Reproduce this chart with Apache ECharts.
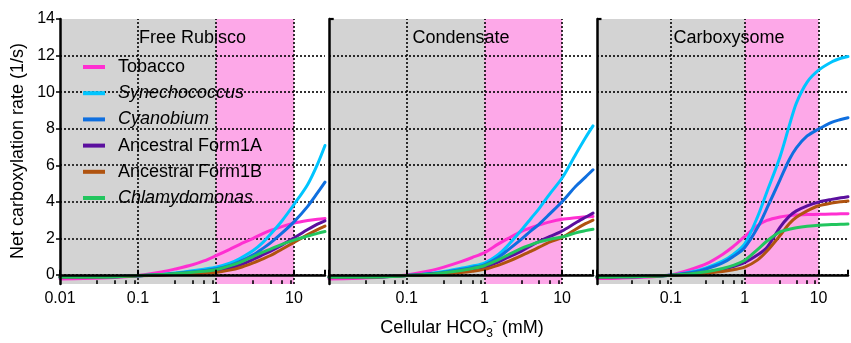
<!DOCTYPE html>
<html><head><meta charset="utf-8">
<script src="https://cdn.jsdelivr.net/npm/echarts@6/dist/echarts.min.js"></script>
<style>html,body{margin:0;padding:0;background:#fff}#c{width:851px;height:343px}</style>
</head><body><div id="c"></div>
<script>
// ---- data ----
const xValues = [0.01, 0.02, 0.05, 0.1, 0.2, 0.3, 0.5, 0.7, 1, 1.5, 2, 3, 4, 5, 7, 10, 15, 20, 25];
const seriesNames = ['Tobacco', 'Synechococcus', 'Cyanobium', 'Ancestral Form1A', 'Ancestral Form1B', 'Chlamydomonas'];
const italicNames = ['Synechococcus', 'Cyanobium', 'Chlamydomonas'];
const panelTitles = ['Free Rubisco', 'Condensate', 'Carboxysome'];
const yTickValues = [0, 2, 4, 6, 8, 10, 12];
const xGridValues = [0.1, 1, 10];
const minorTickValues = [0.03, 0.05, 0.07, 0.09, 0.3, 0.5, 0.7, 0.9, 3, 5, 7, 9];

// Free Rubisco
const freeTobacco = [-0.22, -0.2, -0.14, -0.03, 0.16, 0.32, 0.55, 0.76, 1.05, 1.4, 1.66, 2.0, 2.26, 2.43, 2.64, 2.83, 2.97, 3.04, 3.08];
const freeSyn     = [-0.13, -0.13, -0.11, -0.06, 0.02, 0.1, 0.22, 0.31, 0.42, 0.64, 0.88, 1.33, 1.78, 2.22, 2.95, 3.85, 4.95, 6.05, 7.08];
const freeCyano   = [-0.12, -0.12, -0.1, -0.05, 0.02, 0.08, 0.17, 0.24, 0.33, 0.52, 0.72, 1.1, 1.45, 1.75, 2.28, 2.9, 3.75, 4.48, 5.07];
const freeF1A     = [-0.12, -0.12, -0.1, -0.05, 0.0, 0.04, 0.1, 0.15, 0.21, 0.37, 0.53, 0.85, 1.1, 1.3, 1.63, 2.02, 2.48, 2.78, 2.96];
const freeF1B     = [-0.12, -0.12, -0.1, -0.05, -0.01, 0.02, 0.06, 0.09, 0.13, 0.26, 0.39, 0.66, 0.88, 1.06, 1.4, 1.78, 2.2, 2.48, 2.67];
const freeChlamy  = [-0.12, -0.12, -0.1, -0.04, 0.02, 0.07, 0.14, 0.2, 0.28, 0.49, 0.67, 1.0, 1.24, 1.41, 1.67, 1.9, 2.12, 2.27, 2.37];

// Condensate
const condTobacco = [-0.22, -0.2, -0.12, 0.0, 0.22, 0.42, 0.72, 0.95, 1.22, 1.68, 1.98, 2.38, 2.58, 2.72, 2.9, 3.04, 3.13, 3.18, 3.2];
const condSyn     = [-0.13, -0.13, -0.1, -0.04, 0.08, 0.18, 0.36, 0.48, 0.64, 1.1, 1.6, 2.45, 3.1, 3.6, 4.45, 5.3, 6.6, 7.5, 8.15];
const condCyano   = [-0.12, -0.12, -0.1, -0.04, 0.06, 0.15, 0.3, 0.41, 0.55, 0.95, 1.35, 1.95, 2.42, 2.75, 3.35, 4.0, 4.85, 5.35, 5.75];
const condF1A     = [-0.12, -0.12, -0.1, -0.04, 0.03, 0.09, 0.2, 0.3, 0.42, 0.7, 0.95, 1.3, 1.6, 1.82, 2.1, 2.4, 2.85, 3.15, 3.38];
const condF1B     = [-0.12, -0.12, -0.1, -0.04, 0.01, 0.05, 0.13, 0.2, 0.3, 0.52, 0.72, 1.05, 1.3, 1.5, 1.8, 2.05, 2.5, 2.8, 3.0];
const condChlamy  = [-0.12, -0.12, -0.1, -0.04, 0.04, 0.11, 0.24, 0.35, 0.5, 0.82, 1.08, 1.45, 1.65, 1.8, 1.95, 2.07, 2.3, 2.42, 2.5];

// Carboxysome
const carbTobacco = [-0.2, -0.18, -0.12, 0.0, 0.34, 0.6, 1.12, 1.55, 2.1, 2.7, 2.98, 3.17, 3.24, 3.27, 3.3, 3.31, 3.33, 3.34, 3.35];
const carbSyn     = [-0.12, -0.11, -0.08, -0.02, 0.18, 0.38, 0.75, 1.12, 1.7, 3.2, 4.55, 6.45, 8.15, 9.4, 10.55, 11.2, 11.65, 11.85, 11.95];
const carbCyano   = [-0.12, -0.11, -0.08, -0.02, 0.14, 0.32, 0.65, 1.0, 1.5, 2.6, 3.65, 5.2, 6.3, 6.95, 7.6, 7.98, 8.35, 8.5, 8.6];
const carbF1A     = [-0.12, -0.11, -0.08, -0.02, 0.07, 0.15, 0.3, 0.45, 0.68, 1.1, 1.5, 2.6, 3.2, 3.5, 3.78, 3.98, 4.13, 4.22, 4.28];
const carbF1B     = [-0.12, -0.11, -0.08, -0.03, 0.03, 0.09, 0.18, 0.28, 0.42, 0.82, 1.3, 2.15, 2.8, 3.15, 3.5, 3.78, 3.93, 4.0, 4.04];
const carbChlamy  = [-0.12, -0.11, -0.08, -0.02, 0.08, 0.17, 0.35, 0.52, 0.8, 1.4, 1.85, 2.35, 2.5, 2.58, 2.66, 2.72, 2.75, 2.77, 2.78];

// ---- styling ----
const colors = ['#ff2fd1', '#00c5ff', '#0f6fdf', '#5b0f9e', '#b0530f', '#22c55e'];
const FONT = '"Liberation Sans", Arial, sans-serif';
const gridLefts = [60, 329, 597];
const gridWidths = [265, 264, 264];
const panelData = [
  [freeTobacco, freeSyn, freeCyano, freeF1A, freeF1B, freeChlamy],
  [condTobacco, condSyn, condCyano, condF1A, condF1B, condChlamy],
  [carbTobacco, carbSyn, carbCyano, carbF1A, carbF1B, carbChlamy]
];

const grids = [], xAxes = [], yAxes = [], series = [], graphics = [];
for (let i = 0; i < 3; i++) {
  grids.push({left: gridLefts[i], top: 19, width: gridWidths[i], height: 265});
}
for (let i = 0; i < 3; i++) {
  grids.push({left: gridLefts[i], top: 19, width: gridWidths[i], height: 256});
}
for (let i = 0; i < 3; i++) {
  xAxes.push({
    type: 'log', logBase: 10, gridIndex: i, min: 0.01, max: 25, z: 10,
    axisLine: {show: true, lineStyle: {color: '#000', width: 2.5}},
    axisTick: {show: true, inside: true, length: 5, lineStyle: {color: '#000', width: 2}},
    axisLabel: {
      fontSize: 16, color: '#000', margin: 7, fontFamily: FONT,
      formatter: function (v) {
        const l = Math.log10(v);
        if (Math.abs(l - Math.round(l)) > 1e-6) return '';
        if (i > 0 && v < 0.05) return '';
        return String(Number(v.toPrecision(3)));
      }
    },
    splitLine: {show: false}, minorTick: {show: false}
  });
}
for (let i = 0; i < 3; i++) {
  xAxes.push({type: 'value', gridIndex: i + 3, min: 0, max: 1, show: false});
}
for (let i = 0; i < 3; i++) {
  yAxes.push({
    type: 'value', gridIndex: i, min: -0.5, max: 14, z: 10,
    axisLine: {show: true, lineStyle: {color: '#000', width: 2.5}},
    axisTick: {show: false}, axisLabel: {show: false}, splitLine: {show: false}
  });
}
for (let i = 0; i < 3; i++) {
  yAxes.push({
    type: 'value', gridIndex: i + 3, min: 0, max: 14, interval: 2, z: 10,
    axisLine: {show: false},
    axisTick: {show: i === 0, length: 4, lineStyle: {color: '#000', width: 1.5}},
    axisLabel: {show: i === 0, fontSize: 16, color: '#000', margin: 5, fontFamily: FONT},
    splitLine: {show: false}
  });
}

for (let i = 0; i < 3; i++) {
  const markData = yTickValues.map(v => ({yAxis: v})).concat(xGridValues.map(v => ({xAxis: v}))).concat(
    minorTickValues.map(v => [{coord: [v, -0.5], lineStyle: {type: 'solid', width: 1.6}}, {coord: [v, -0.3]}])
  );
  if (i > 0) {
    // small inward hook at the top of the inner panels' y axis
    markData.push([{coord: [0.01, 14], lineStyle: {type: 'solid', width: 2.2}}, {coord: [0.0115, 14]}]);
  }
  series.push({
    type: 'line', xAxisIndex: i, yAxisIndex: i, data: [], silent: true,
    markArea: {
      silent: true, z: 1,
      data: [
        [{xAxis: 0.01, itemStyle: {color: '#d3d3d3'}}, {xAxis: 1}],
        [{xAxis: 1, itemStyle: {color: '#fda8e8'}}, {xAxis: 10}]
      ]
    },
    markLine: {
      silent: true, z: 1.5, symbol: ['none', 'none'], label: {show: false},
      lineStyle: {type: [2, 2], color: '#000', width: 1.6},
      data: markData
    }
  });
  series.push({type: 'line', xAxisIndex: i + 3, yAxisIndex: i + 3, data: [], silent: true});
  for (let s = 0; s < 6; s++) {
    series.push({
      type: 'line', name: seriesNames[s], xAxisIndex: i, yAxisIndex: i, z: 3,
      data: xValues.map((x, k) => [x, panelData[i][s][k]]),
      smooth: 0.3, showSymbol: false, symbol: 'none',
      lineStyle: {width: 3, color: colors[s], cap: 'round', join: 'round'}, itemStyle: {color: colors[s]}
    });
  }
  graphics.push({
    type: 'text', x: gridLefts[i] + gridWidths[i] / 2, y: 38, z: 20,
    style: {text: panelTitles[i], fontSize: 18, fontFamily: FONT, fill: '#000', align: 'center', verticalAlign: 'middle'}
  });
}

graphics.push({
  type: 'text', x: 18, y: 151, rotation: Math.PI / 2, z: 20,
  style: {text: 'Net carboxylation rate (1/s)', fontSize: 18, fontFamily: FONT, fill: '#000', align: 'center', verticalAlign: 'middle'}
});
graphics.push({
  type: 'text', x: 462, y: 328, z: 20,
  style: {
    text: '{m|Cellular HCO}{sub|3}{sup|-}{m| (mM)}',
    align: 'center', verticalAlign: 'middle', fill: '#000',
    rich: {
      m: {fontSize: 18, fontFamily: FONT, lineHeight: 24, verticalAlign: 'middle', fill: '#000'},
      sub: {fontSize: 12, fontFamily: FONT, lineHeight: 12, verticalAlign: 'bottom', fill: '#000'},
      sup: {fontSize: 12, fontFamily: FONT, lineHeight: 12, verticalAlign: 'top', fill: '#000'}
    }
  }
});

const chart = echarts.init(document.getElementById('c'), null, {renderer: 'canvas'});
chart.setOption({
  animation: false,
  backgroundColor: '#fff',
  grid: grids, xAxis: xAxes, yAxis: yAxes, series: series, graphic: graphics,
  legend: {
    orient: 'vertical', left: 78, top: 53, itemWidth: 22, itemHeight: 4, itemGap: 8.2,
    icon: 'rect', selectedMode: false, data: seriesNames,
    textStyle: {
      fontSize: 18, color: '#000', fontFamily: FONT,
      rich: {
        i: {fontSize: 18, fontStyle: 'italic', color: '#000', fontFamily: FONT, padding: [0, 0, 0, 8]},
        n: {fontSize: 18, color: '#000', fontFamily: FONT, padding: [0, 0, 0, 8]}
      }
    },
    formatter: name => italicNames.includes(name) ? '{i|' + name + '}' : '{n|' + name + '}'
  }
});
</script></body></html>
